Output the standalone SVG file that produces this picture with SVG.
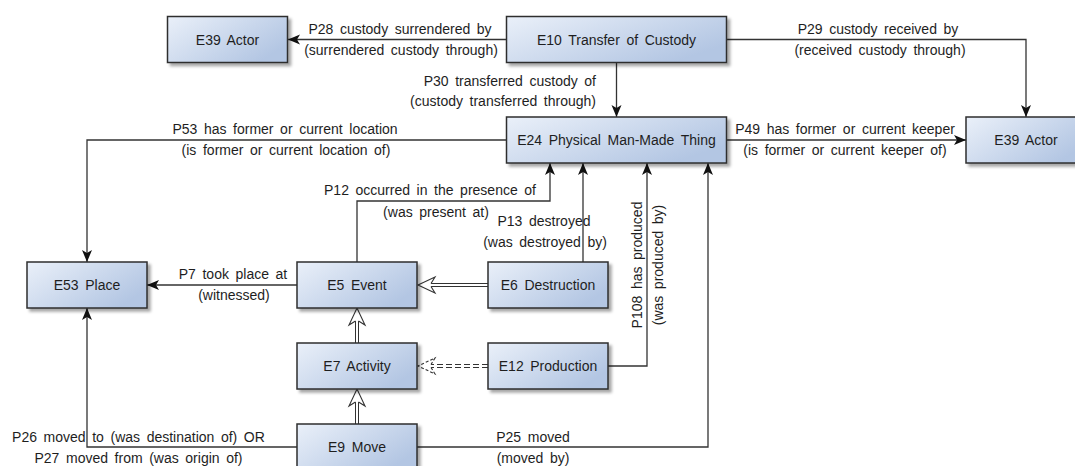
<svg xmlns="http://www.w3.org/2000/svg" width="1075" height="466" viewBox="0 0 1075 466">
<style>
text{font-family:"Liberation Sans",Arial,sans-serif;font-size:14px;word-spacing:2.7px;fill:#1e1e1e}
.node rect{fill:url(#g);stroke:#2e2e2e;stroke-width:1.5;filter:url(#sh)}
.node text{text-anchor:middle}
.c{text-anchor:middle}
.e{text-anchor:end}
.ln{fill:none;stroke:#333;stroke-width:1.3;marker-end:url(#ar)}
.io{fill:none;stroke:#333;stroke-width:4}
.ii{fill:none;stroke:#fff;stroke-width:2;marker-end:url(#inh)}
.iod{fill:none;stroke:#333;stroke-width:4;stroke-dasharray:6 3}
.iid{fill:none;stroke:#fff;stroke-width:2;marker-end:url(#inhd)}
</style>
<defs>
<linearGradient id="g" x1="0" y1="0" x2="1" y2="0.6">
<stop offset="0" stop-color="#eaf0f9"/>
<stop offset="1" stop-color="#b3c6e3"/>
</linearGradient>
<filter id="sh" x="-10%" y="-20%" width="130%" height="160%">
<feDropShadow dx="3" dy="3" stdDeviation="1.5" flood-color="#000" flood-opacity="0.35"/>
</filter>
<marker id="ar" markerUnits="userSpaceOnUse" markerWidth="14" markerHeight="12" refX="12" refY="6" orient="auto" overflow="visible">
<path d="M0,1 L12,6 L0,11 L3,6 z" fill="#111"/>
</marker>
<marker id="inh" markerUnits="userSpaceOnUse" markerWidth="20" markerHeight="20" refX="4" refY="8" orient="auto" overflow="visible">
<path d="M4,6.5 L0,0 L17,8 L0,16 L4,9.5" fill="#fff" stroke="#333" stroke-width="1.1"/>
</marker>
<marker id="inhd" markerUnits="userSpaceOnUse" markerWidth="20" markerHeight="20" refX="4" refY="8" orient="auto" overflow="visible">
<path d="M4,6.5 L0,0 L17,8 L0,16 L4,9.5" fill="#fff" stroke="#333" stroke-width="1.1" stroke-dasharray="3 2"/>
</marker>
</defs>

<g id="connectors">
<path class="ln" d="M506,39.5 L288,39.5"/>
<path class="ln" d="M727,39.5 L1026,39.5 L1026,117"/>
<path class="ln" d="M616.5,62.5 L616.5,117"/>
<path class="ln" d="M506,140 L87,140 L87,262"/>
<path class="ln" d="M727,140 L966,140"/>
<path class="ln" d="M357,262 L357,201 L550,201 L550,163"/>
<path class="ln" d="M583,262 L583,163"/>
<path class="ln" d="M608,366 L647,366 L647,163"/>
<path class="ln" d="M417,447 L708,447 L708,163"/>
<path class="ln" d="M297,447 L87,447 L87,308"/>
<path class="ln" d="M297,285 L147,285"/>
<path class="io" d="M488,285 L431,285"/>
<path class="ii" d="M488,285 L431,285"/>
<path class="io" d="M357,343 L357,321"/>
<path class="ii" d="M357,343 L357,321"/>
<path class="io" d="M357,424 L357,402"/>
<path class="ii" d="M357,424 L357,402"/>
<path class="iod" d="M488,366 L431,366"/>
<path class="iid" d="M488,366 L431,366"/>

<text class="c" x="400" y="34">P28 custody surrendered by</text>
<text class="c" x="401" y="55">(surrendered custody through)</text>
<text class="c" x="878" y="34">P29 custody received by</text>
<text class="c" x="880" y="55">(received custody through)</text>
<text class="e" x="596" y="86">P30 transferred custody of</text>
<text class="e" x="596" y="106">(custody transferred through)</text>
<text class="c" x="285" y="134">P53 has former or current location</text>
<text class="c" x="286" y="155">(is former or current location of)</text>
<text class="c" x="845" y="134">P49 has former or current keeper</text>
<text class="c" x="845" y="155">(is former or current keeper of)</text>
<text class="c" x="430" y="195">P12 occurred in the presence of</text>
<text class="c" x="436" y="217">(was present at)</text>
<text class="c" x="544" y="226">P13 destroyed</text>
<text class="c" x="545" y="247">(was destroyed by)</text>
<text class="c" transform="translate(642,265) rotate(-90)">P108 has produced</text>
<text class="c" transform="translate(663,265) rotate(-90)">(was produced by)</text>
<text class="c" x="233" y="279">P7 took place at</text>
<text class="c" x="234" y="300">(witnessed)</text>
<text class="c" x="533" y="442">P25 moved</text>
<text class="c" x="533" y="463">(moved by)</text>
<text class="c" x="138.5" y="442">P26 moved to (was destination of) OR</text>
<text class="c" x="138.5" y="463">P27 moved from (was origin of)</text>
</g>

<g id="E39a" class="node"><rect x="167.5" y="16.5" width="120" height="46"/><text x="227.5" y="44.5">E39 Actor</text></g>
<g id="E10" class="node"><rect x="506.5" y="16.5" width="220" height="46"/><text x="616.5" y="44.5">E10 Transfer of Custody</text></g>
<g id="E24" class="node"><rect x="506.5" y="117" width="220" height="46"/><text x="616.5" y="145">E24 Physical Man-Made Thing</text></g>
<g id="E39b" class="node"><rect x="966" y="117" width="120" height="46"/><text x="1026" y="145">E39 Actor</text></g>
<g id="E53" class="node"><rect x="27" y="262" width="120" height="46"/><text x="87" y="290">E53 Place</text></g>
<g id="E5" class="node"><rect x="297" y="262" width="120" height="46"/><text x="357" y="290">E5 Event</text></g>
<g id="E6" class="node"><rect x="488" y="262" width="120" height="46"/><text x="548" y="290">E6 Destruction</text></g>
<g id="E7" class="node"><rect x="297" y="343" width="120" height="46"/><text x="357" y="371">E7 Activity</text></g>
<g id="E12" class="node"><rect x="488" y="343" width="120" height="46"/><text x="548" y="371">E12 Production</text></g>
<g id="E9" class="node"><rect x="297" y="424" width="120" height="46"/><text x="357" y="452">E9 Move</text></g>
</svg>
